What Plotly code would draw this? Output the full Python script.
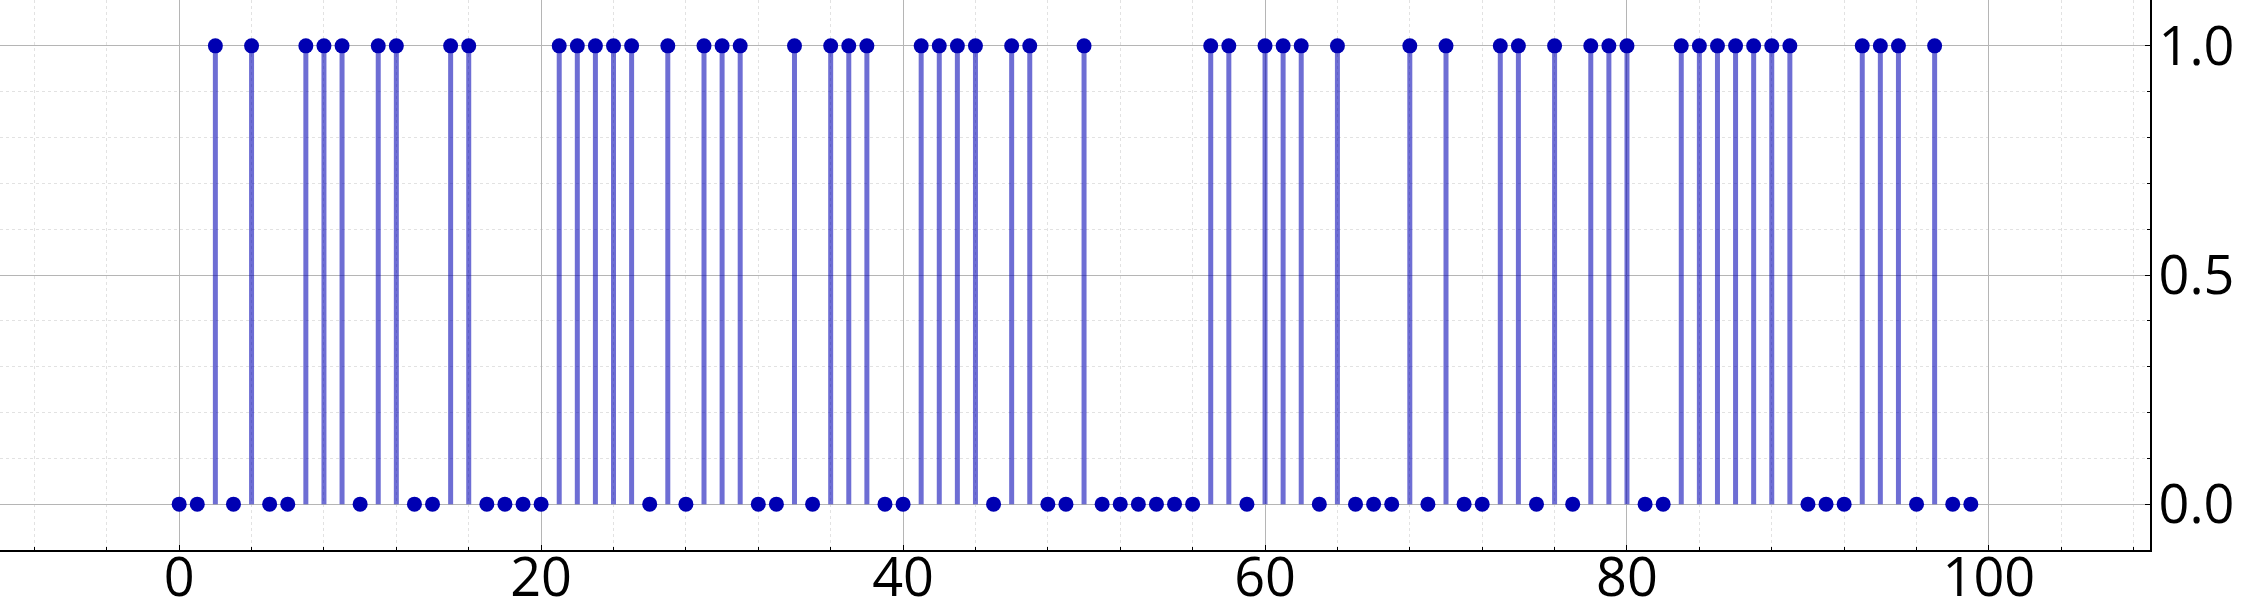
import plotly.graph_objects as go

# Data
x_vals = list(range(100))
y_vals = [0, 0, 1, 0, 1, 0, 0, 1, 1, 1,
          0, 1, 1, 0, 0, 1, 1, 0, 0, 0,
          0, 1, 1, 1, 1, 1, 0, 1, 0, 1,
          1, 1, 0, 0, 1, 0, 1, 1, 1, 0,
          0, 1, 1, 1, 1, 0, 1, 1, 0, 0,
          1, 0, 0, 0, 0, 0, 0, 1, 1, 0,
          1, 1, 1, 0, 1, 0, 0, 0, 1, 0,
          1, 0, 0, 1, 1, 0, 1, 0, 1, 1,
          1, 0, 0, 1, 1, 1, 1, 1, 1, 1,
          0, 0, 0, 1, 1, 1, 0, 1, 0, 0]
x_tick_vals = [0, 20, 40, 60, 80, 100]
y_tick_vals = [0.0, 0.5, 1.0]
y_tick_text = ["0.0", "0.5", "1.0"]

# stems
sx, sy = [], []
for xv, yv in zip(x_vals, y_vals):
    sx += [xv, xv, None]
    sy += [0, yv, None]

fig = go.Figure()
fig.add_trace(go.Scatter(x=sx, y=sy, mode="lines",
                         line=dict(color="rgba(0,0,180,0.57)", width=5),
                         hoverinfo="skip", showlegend=False))
fig.add_trace(go.Scatter(x=x_vals, y=y_vals, mode="markers",
                         marker=dict(color="#0000b2", size=15, line=dict(width=0)),
                         showlegend=False))

font = dict(family="Open Sans", size=54, color="black")
fig.update_layout(
    width=2250, height=600,
    margin=dict(l=0, r=100, t=0, b=50, autoexpand=False),
    plot_bgcolor="white", paper_bgcolor="white",
    font=font,
    xaxis=dict(range=[-9.9, 108.9], tickvals=x_tick_vals, ticks="inside", ticklen=5,
               tickcolor="black", showline=True, linecolor="black", linewidth=1.5,
               showgrid=True, gridcolor="#b5b5b5", gridwidth=1, zeroline=False,
               tickfont=font, automargin=False, ticklabelstandoff=-21,
               minor=dict(dtick=4, ticks="inside", ticklen=3, tickcolor="black",
                          showgrid=True, gridcolor="#e2e2e2", griddash="dot", gridwidth=1)),
    yaxis=dict(range=[-0.1, 1.1], side="right", tickvals=y_tick_vals, ticktext=y_tick_text,
               ticks="inside", ticklen=5, tickcolor="black",
               showline=True, linecolor="black", linewidth=1.5,
               showgrid=True, gridcolor="#b5b5b5", gridwidth=1, zeroline=False,
               tickfont=font, automargin=False, ticklabelstandoff=-4,
               minor=dict(dtick=0.1, ticks="inside", ticklen=3, tickcolor="black",
                          showgrid=True, gridcolor="#e2e2e2", griddash="dot", gridwidth=1)),
)
fig.write_html("out.html", config={"displayModeBar": False},
               post_script="document.body.style.margin='0px';document.body.style.overflow='hidden';")
